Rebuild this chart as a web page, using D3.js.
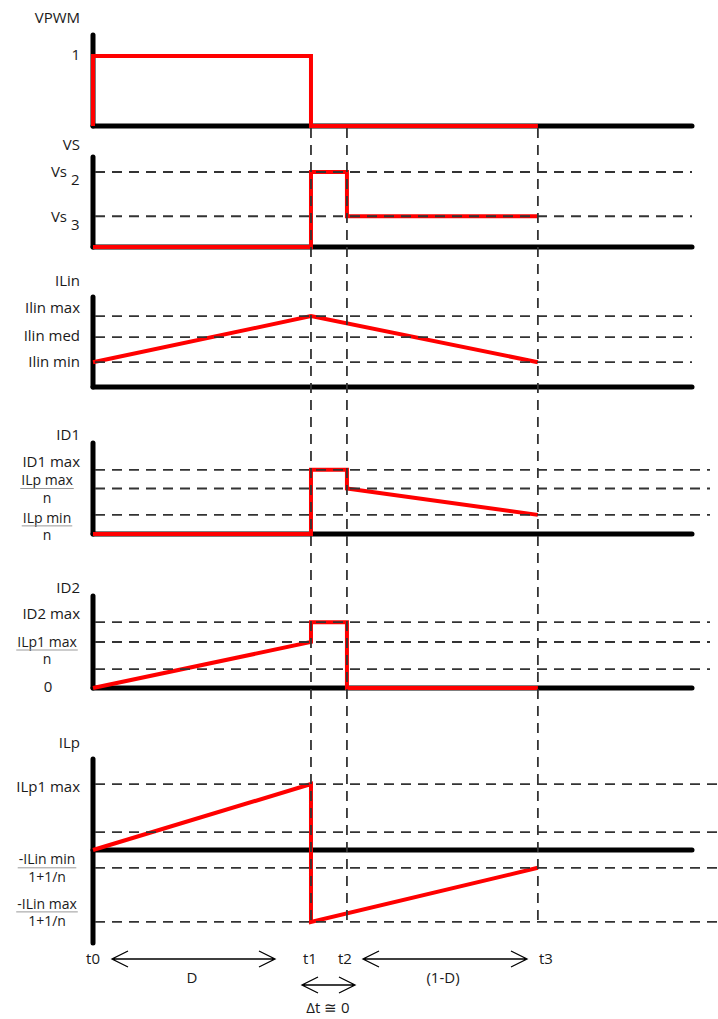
<!DOCTYPE html>
<html>
<head>
<meta charset="utf-8">
<script src="https://cdn.jsdelivr.net/npm/d3@7"></script>
<style>
  body { margin: 0; background: #fff; }
  text { font-family: "Open Sans", sans-serif; font-size: 15px; fill: #1a1a1a; }
  text.frac { font-size: 14px; }
</style>
</head>
<body>
<div id="chart"></div>
<script>
// time instants (t1 = 1 unit after t0)
var timeNames = ["t0", "t1", "t2", "t3"];
var timeValues = [0, 1, 1.165, 2.041];
var timeEnd = 2.748;

// panel titles
var panelTitles = ["VPWM", "VS", "ILin", "ID1", "ID2", "ILp"];

// level values for each panel (dashed reference lines)
var vpwmLevels = [];
var vsLevels = [1, 0.41];
var ilinLevels = [1.0, 0.705, 0.35];
var id1Levels = [1.41, 1.0, 0.42];
var id2Levels = [1.43, 1.0, 0.41];
var ilpLevels = [1, 0.27, -0.27, -1.09];

// waveforms: [time index, value]
var vpwmWave = [[0, 0], [0, 1], [1, 1], [1, 0], [3, 0]];
var vsWave = [[0, 0], [1, 0], [1, 1], [2, 1], [2, 0.41], [3, 0.41]];
var ilinWave = [[0, 0.35], [1, 1.0], [3, 0.35]];
var id1Wave = [[0, 0], [1, 0], [1, 1.41], [2, 1.41], [2, 1.0], [3, 0.42]];
var id2Wave = [[0, 0], [1, 1.0], [1, 1.43], [2, 1.43], [2, 0], [3, 0]];
var ilpWave = [[0, 0], [1, 1], [1, -1.09], [3, -0.27]];

// axis labels: [numerator, denominator or null, value]
var vpwmLabels = [["1", null, 1]];
var vsLabels = [["Vs", "2", 1], ["Vs", "3", 0.41]];
var ilinLabels = [["Ilin max", null, 1.0], ["Ilin med", null, 0.705], ["Ilin min", null, 0.35]];
var id1Labels = [["ID1 max", null, 1.41], ["ILp max", "n", 1.0], ["ILp min", "n", 0.42]];
var id2Labels = [["ID2 max", null, 1.43], ["ILp1 max", "n", 1.0], ["0", null, 0]];
var ilpLabels = [["ILp1 max", null, 1], ["-ILin min", "1+1/n", -0.27], ["-ILin max", "1+1/n", -1.09]];

// value domains [bottom, top] per panel
var panelDomains = [[0, 1.3], [0, 1.2], [0, 1.27], [0, 2.0], [0, 2.0], [-1.41, 1.38]];

// ---- layout ----
var width = 718, height = 1019;
var x0 = 93, xAxisEnd = 692;
var layout = [
    { top: 35, bottom: 126, dashEnd: 692, title: 18, shifts: [-1] },
    { top: 157, bottom: 247, dashEnd: 692, title: 145, shifts: [0, 0] },
    { top: 297, bottom: 387, dashEnd: 692, title: 281, shifts: [-8, -1, 0] },
    { top: 443, bottom: 534, dashEnd: 710, title: 435, shifts: [-8, 0, 11] },
    { top: 596, bottom: 688, dashEnd: 710, title: 588, shifts: [-8, 8, -1] },
    { top: 759, bottom: 943, dashEnd: 718, title: 743, shifts: [3, 0, -10] }
];
var levels = [vpwmLevels, vsLevels, ilinLevels, id1Levels, id2Levels, ilpLevels];
var waves = [vpwmWave, vsWave, ilinWave, id1Wave, id2Wave, ilpWave];
var labels = [vpwmLabels, vsLabels, ilinLabels, id1Labels, id2Labels, ilpLabels];

var svg = d3.select("#chart").append("svg")
    .attr("width", width)
    .attr("height", height);

var x = d3.scaleLinear().domain([0, timeEnd]).range([x0, xAxisEnd]);

var gAxes = svg.append("g");
var gWave = svg.append("g");
var gDash = svg.append("g");
var gText = svg.append("g");

var dash = "10,7";

layout.forEach(function (p, i) {
    var y = d3.scaleLinear().domain(panelDomains[i]).range([p.bottom, p.top]);

    // black axes
    gAxes.append("line")
        .attr("x1", x(0)).attr("x2", x(0))
        .attr("y1", y(panelDomains[i][1])).attr("y2", y(panelDomains[i][0]))
        .attr("stroke", "#000").attr("stroke-width", 5).attr("stroke-linecap", "round");
    gAxes.append("line")
        .attr("x1", x(0)).attr("x2", x(timeEnd))
        .attr("y1", y(0)).attr("y2", y(0))
        .attr("stroke", "#000").attr("stroke-width", 5).attr("stroke-linecap", "round");

    // red waveform
    var line = d3.line()
        .x(function (d) { return x(timeValues[d[0]]); })
        .y(function (d) { return y(d[1]); });
    gWave.append("path")
        .datum(waves[i])
        .attr("fill", "none")
        .attr("stroke", "#ff0000")
        .attr("stroke-width", 4)
        .attr("stroke-linejoin", "miter")
        .attr("d", line);

    // dashed reference levels
    gDash.selectAll(null)
        .data(levels[i])
        .enter().append("line")
        .attr("x1", x(0) + 2).attr("x2", p.dashEnd)
        .attr("y1", function (d) { return y(d); })
        .attr("y2", function (d) { return y(d); })
        .attr("stroke", "#333").attr("stroke-width", 1.8)
        .attr("stroke-dasharray", dash);

    // title
    gText.append("text")
        .attr("x", 80).attr("y", p.title)
        .attr("dy", "0.35em")
        .attr("text-anchor", "end")
        .text(panelTitles[i]);

    // level labels
    labels[i].forEach(function (l, j) {
        var yy = y(l[2]) + p.shifts[j];
        if (i === 1) {
            gText.append("text")
                .attr("x", 67).attr("y", yy).attr("dy", "0.35em")
                .attr("text-anchor", "end").text(l[0]);
            gText.append("text")
                .attr("x", 71).attr("y", yy + 8).attr("dy", "0.35em")
                .text(l[1]);
        } else if (l[1] === null) {
            gText.append("text")
                .attr("x", l[0] === "0" ? 48 : 80).attr("y", yy).attr("dy", "0.35em")
                .attr("text-anchor", l[0] === "0" ? "middle" : "end")
                .text(l[0]);
        } else {
            var cx = 47;
            var num = gText.append("text")
                .attr("class", "frac")
                .attr("x", cx).attr("y", yy - 8).attr("dy", "0.33em")
                .attr("text-anchor", "middle").text(l[0]);
            gText.append("text")
                .attr("class", "frac")
                .attr("x", cx).attr("y", yy + 9.5).attr("dy", "0.33em")
                .attr("text-anchor", "middle").text(l[1]);
            var w = Math.min(num.node().getComputedTextLength() + 2, 74);
            gText.append("line")
                .attr("x1", cx - w / 2).attr("x2", cx + w / 2)
                .attr("y1", yy).attr("y2", yy)
                .attr("stroke", "#999").attr("stroke-width", 1);
        }
    });
});

// vertical dashed time markers
gDash.selectAll(null)
    .data(timeValues.slice(1))
    .enter().append("line")
    .attr("x1", function (d) { return x(d); })
    .attr("x2", function (d) { return x(d); })
    .attr("y1", 128).attr("y2", 925)
    .attr("stroke", "#333").attr("stroke-width", 1.8)
    .attr("stroke-dasharray", dash);

// time labels
var tShift = [0, -1, -2, 8];
gText.selectAll(null)
    .data(timeNames)
    .enter().append("text")
    .attr("x", function (d, i) { return x(timeValues[i]) + tShift[i]; })
    .attr("y", 959).attr("dy", "0.35em")
    .attr("text-anchor", "middle")
    .text(function (d) { return d; });

// interval arrows
function arrow(xa, xb, yy) {
    var h = 8, l = 16;
    gText.append("path")
        .attr("fill", "none").attr("stroke", "#000").attr("stroke-width", 1.3)
        .attr("d", "M" + xa + "," + yy + "H" + xb +
            "M" + (xa + l) + "," + (yy - h) + "L" + xa + "," + yy + "L" + (xa + l) + "," + (yy + h) +
            "M" + (xb - l) + "," + (yy - h) + "L" + xb + "," + yy + "L" + (xb - l) + "," + (yy + h));
}
var intervalNames = ["D", "(1-D)", "\u0394t \u2245 0"];
arrow(112, 275, 959);
arrow(363, 527, 959);
arrow(302, 355, 985);
gText.append("text").attr("x", 192).attr("y", 978).attr("dy", "0.35em")
    .attr("text-anchor", "middle").text(intervalNames[0]);
gText.append("text").attr("x", 443).attr("y", 978).attr("dy", "0.35em")
    .attr("text-anchor", "middle").text(intervalNames[1]);
gText.append("text").attr("x", 328).attr("y", 1008).attr("dy", "0.35em")
    .attr("text-anchor", "middle").text(intervalNames[2]);
</script>
</body>
</html>
